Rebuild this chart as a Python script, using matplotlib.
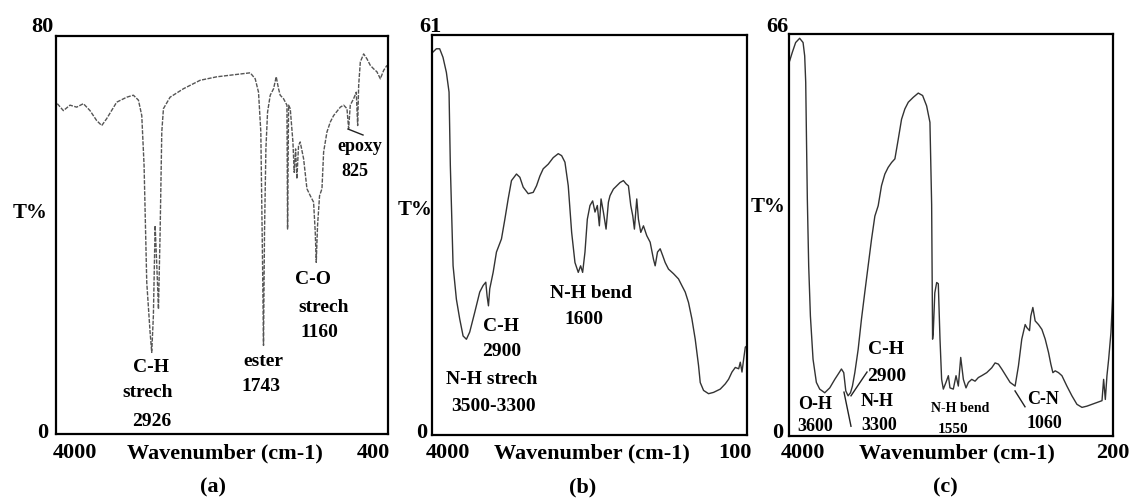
import matplotlib.pyplot as plt
import numpy as np

plt.rcParams['font.family'] = ['Liberation Serif', 'DejaVu Serif']
plt.rcParams['font.weight'] = 'bold'

W, H = 1132, 502

# (a) spectrum: wavenumber (cm-1) and T%
wn_a = [3986, 3920, 3848, 3776, 3703, 3631, 3559, 3504, 3450, 3342, 3233, 3161, 3106, 3070,
        3045, 3016, 2980, 2962, 2944, 2925, 2907, 2889, 2871, 2853, 2835, 2763, 2618, 2437,
        2256, 2075, 1894, 1840, 1804, 1779, 1760, 1750, 1739, 1724, 1706, 1677, 1641, 1612,
        1587, 1569, 1533, 1496, 1489, 1478, 1460, 1431, 1417, 1402, 1388, 1370, 1352, 1315,
        1279, 1243, 1207, 1189, 1178, 1164, 1142, 1116, 1098, 1062, 1026, 990, 917, 881,
        845, 827, 809, 773, 744, 729, 718, 700, 664, 628, 592, 556, 520, 483, 447, 411]
t_a = [66.4, 65.0, 66.1, 65.7, 66.4, 65.0, 63.0, 62.0, 63.4, 66.7, 67.7, 68.1, 67.1, 64.0,
       54.0, 30.5, 20.5, 16.4, 23.8, 41.9, 33.9, 25.1, 40.6, 60.7, 65.4, 67.7, 69.4, 71.1,
       71.8, 72.2, 72.6, 71.4, 68.7, 60.7, 33.9, 17.8, 40.6, 57.3, 64.7, 68.1, 69.4, 71.8,
       69.4, 68.1, 67.4, 66.1, 41.2, 66.1, 65.4, 58.7, 52.6, 57.3, 51.3, 58.0, 58.7, 55.3,
       49.3, 47.9, 46.6, 40.6, 34.5, 41.9, 47.9, 49.3, 56.7, 60.7, 62.7, 64.0, 65.7, 66.1,
       65.4, 61.4, 66.1, 67.4, 68.7, 62.0, 70.1, 74.8, 76.4, 75.4, 74.1, 73.4, 72.8, 71.4,
       73.1, 74.1]

# (b) spectrum
wn_b = [3988, 3946, 3905, 3864, 3822, 3789, 3773, 3739, 3698, 3657, 3615, 3574, 3533, 3471,
        3409, 3367, 3334, 3318, 3301, 3285, 3243, 3202, 3140, 3098, 3057, 3016, 2954, 2912,
        2871, 2809, 2747, 2706, 2664, 2623, 2561, 2499, 2437, 2395, 2354, 2313, 2271, 2230,
        2189, 2160, 2135, 2106, 2077, 2044, 2011, 1982, 1953, 1928, 1907, 1878, 1845, 1816,
        1796, 1754, 1713, 1672, 1630, 1597, 1568, 1539, 1514, 1494, 1465, 1444, 1415, 1382,
        1341, 1299, 1258, 1237, 1208, 1175, 1142, 1113, 1072, 1010, 948, 907, 865, 824, 782,
        741, 700, 679, 638, 576, 514, 431, 369, 328, 286, 245, 203, 183, 162, 141, 121, 100]
t_b = [58.4, 58.9, 58.9, 57.6, 55.3, 52.3, 41.1, 25.8, 20.7, 17.7, 15.1, 14.6, 15.7, 18.7,
       21.8, 22.8, 23.3, 21.2, 19.7, 22.3, 24.8, 27.9, 29.9, 32.9, 36.0, 38.8, 39.8, 39.3,
       37.8, 36.8, 37.0, 38.0, 39.5, 40.6, 41.3, 42.3, 42.9, 42.6, 41.6, 38.0, 30.9, 26.3,
       24.8, 25.8, 24.8, 27.9, 32.9, 35.0, 35.7, 34.0, 35.0, 31.9, 36.0, 34.0, 31.4, 35.5,
       36.5, 37.5, 38.0, 38.5, 38.8, 38.3, 38.0, 35.0, 33.4, 31.4, 36.0, 32.9, 30.9, 31.9,
       30.4, 29.4, 26.8, 25.8, 27.9, 28.4, 27.3, 26.3, 25.3, 24.6, 23.8, 22.8, 21.8, 20.2,
       17.7, 14.6, 10.6, 8.0, 6.8, 6.3, 6.5, 7.0, 7.8, 8.5, 9.6, 10.3, 10.1, 11.1, 9.6, 11.6,
       13.4, 13.6]

# (c) spectrum
wn_c = [3992, 3961, 3922, 3875, 3835, 3816, 3804, 3796, 3785, 3769, 3749, 3718, 3679, 3640,
        3581, 3522, 3463, 3412, 3385, 3358, 3334, 3307, 3279, 3256, 3228, 3189, 3150, 3111,
        3072, 3032, 2993, 2954, 2915, 2876, 2837, 2797, 2758, 2719, 2680, 2641, 2601, 2543,
        2484, 2433, 2386, 2347, 2327, 2316, 2308, 2290, 2268, 2249, 2229, 2210, 2190, 2159,
        2131, 2112, 2073, 2041, 2014, 1986, 1955, 1924, 1896, 1857, 1818, 1779, 1740, 1681,
        1622, 1583, 1544, 1505, 1465, 1407, 1348, 1309, 1270, 1230, 1211, 1179, 1164, 1140,
        1113, 1074, 1034, 995, 956, 929, 905, 878, 839, 799, 741, 682, 623, 564, 506, 447,
        388, 329, 310, 290, 271, 251, 224, 200]
t_c = [61.6, 63.0, 64.6, 65.3, 64.6, 62.4, 58.1, 49.8, 38.9, 27.9, 19.7, 12.6, 8.8, 7.7,
       7.1, 7.9, 9.3, 10.4, 11.0, 10.4, 7.4, 6.6, 7.1, 8.2, 10.4, 14.2, 19.2, 23.6, 27.9,
       32.3, 36.1, 37.8, 41.1, 43.0, 44.1, 44.9, 45.5, 48.7, 52.0, 53.7, 54.8, 55.6, 56.3,
       55.9, 54.2, 51.5, 38.0, 15.9, 17.0, 23.5, 25.2, 25.0, 15.9, 9.3, 7.7, 8.8, 9.9, 7.9,
       7.7, 9.9, 8.2, 12.9, 9.3, 7.9, 8.8, 9.3, 9.0, 9.6, 9.9, 10.4, 11.2, 12.0, 11.8, 11.0,
       10.1, 8.8, 8.2, 11.5, 15.9, 18.3, 17.8, 17.3, 19.7, 21.1, 18.9, 18.3, 17.5, 15.9, 13.7,
       11.8, 10.4, 10.7, 10.4, 9.9, 8.2, 6.6, 5.2, 4.7, 4.9, 5.2, 5.5, 5.8, 9.3, 6.0, 9.9,
       12.6, 17.0, 24.1]

panels = [
    dict(box=(56, 37, 388, 435), wn=wn_a, t=t_a, xmax=4000, xmin=400, ymax=80,
         color='#555555', ls=(0, (3, 1)), top='80', right='400', tag='(a)'),
    dict(box=(432, 36, 747, 436), wn=wn_b, t=t_b, xmax=4000, xmin=100, ymax=61,
         color='#333333', ls='-', top='61', right='100', tag='(b)'),
    dict(box=(789, 35, 1113, 437), wn=wn_c, t=t_c, xmax=4000, xmin=200, ymax=66,
         color='#333333', ls='-', top='66', right='200', tag='(c)'),
]

fig = plt.figure(figsize=(W / 100, H / 100), dpi=100)


def ftext(x, y, s, size=15, **kw):
    fig.text(x / W, 1 - y / H, s, fontsize=size, fontweight='bold',
             ha=kw.pop('ha', 'center'), va=kw.pop('va', 'center'), **kw)


axes = []
for p in panels:
    x0, y0, x1, y1 = p['box']
    ax = fig.add_axes([x0 / W, 1 - y1 / H, (x1 - x0) / W, (y1 - y0) / H])
    ax.plot(p['wn'], p['t'], color=p['color'], lw=1.0, ls=p['ls'])
    ax.set_xlim(p['xmax'], p['xmin'])
    ax.set_ylim(0, p['ymax'])
    ax.set_xticks([])
    ax.set_yticks([])
    for s in ax.spines.values():
        s.set_linewidth(1.6)
    axes.append(ax)

# outer labels
ftext(42, 27, '80', 16); ftext(43, 433, '0', 16)
ftext(75, 453, '4000', 16); ftext(225, 453, 'Wavenumber (cm-1)', 16)
ftext(373, 453, '400', 16); ftext(30, 213, 'T%', 15); ftext(213, 487, '(a)', 16)

ftext(430, 27, '61', 16); ftext(422, 433, '0', 16)
ftext(448, 453, '4000', 16); ftext(592, 453, 'Wavenumber (cm-1)', 16)
ftext(735, 453, '100', 16); ftext(415, 210, 'T%', 15); ftext(583, 487, '(b)', 16)

ftext(777, 27, '66', 16); ftext(778, 433, '0', 16)
ftext(803, 453, '4000', 16); ftext(957, 453, 'Wavenumber (cm-1)', 16)
ftext(1113, 453, '200', 16); ftext(768, 207, 'T%', 15); ftext(945, 487, '(c)', 16)

# annotations (a)
ftext(151, 367, 'C-H', 14); ftext(148, 393, 'strech', 14); ftext(152, 421, '2926', 14)
ftext(263, 361, 'ester', 14); ftext(261, 387, '1743', 14)
ftext(313, 280, 'C-O', 14); ftext(324, 307, 'strech', 14); ftext(319, 333, '1160', 14)
ftext(360, 147, 'epoxy', 13); ftext(355, 172, '825', 13)
axes[0].plot([834, 671], [61.3, 60.1], color='#222222', lw=1.0)

# annotations (b)
ftext(501, 327, 'C-H', 14); ftext(502, 352, '2900', 14)
ftext(492, 380, 'N-H strech', 14); ftext(493, 407, '3500-3300', 14)
ftext(591, 293, 'N-H bend', 14); ftext(584, 320, '1600', 14)

# annotations (c)
ftext(815, 405, 'O-H', 13); ftext(815, 427, '3600', 13)
ftext(886, 350, 'C-H', 14); ftext(887, 377, '2900', 14)
ftext(877, 402, 'N-H', 13); ftext(879, 425, '3300', 13)
ftext(960, 408, 'N-H bend', 10, fontstretch='condensed'); ftext(953, 430, '1550', 11)
ftext(1043, 400, 'C-N', 13); ftext(1044, 423, '1060', 13)
axes[2].plot([3085, 3273], [10.5, 6.6], color='#222222', lw=1.0)
axes[2].plot([3355, 3273], [7.2, 1.6], color='#222222', lw=1.0)
axes[2].plot([1349, 1232], [7.4, 4.8], color='#222222', lw=1.0)

fig.savefig('out.png', dpi=100)
